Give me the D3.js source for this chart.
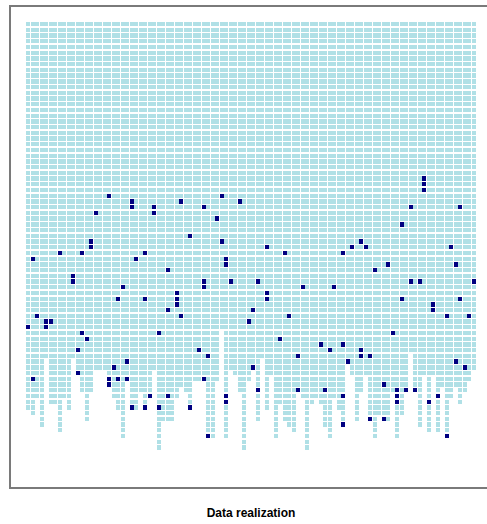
<!DOCTYPE html>
<html>
<head>
<meta charset="utf-8">
<script src="https://cdn.jsdelivr.net/npm/d3@7"></script>
<style>
  body { margin: 0; background: #fff; }
  svg { display: block; }
</style>
</head>
<body>
<svg id="chart" width="487" height="524"></svg>
<script>
// Grid dimensions: one column per subject, one row per time step.
const columns = d3.range(100);
const rows = d3.range(75);

// Last observed row for each column (rows below it are missing).
const lastRow = [
  67, 68, 65, 70, 58, 66, 66, 71, 65, 67,
  58, 61, 64, 69, 64, 60, 60, 60, 63, 65,
  67, 72, 62, 67, 67, 64, 67, 65, 60, 74,
  69, 69, 69, 65, 63, 64, 67, 62, 62, 62,
  72, 72, 62, 53, 72, 60, 61, 64, 74, 62,
  60, 69, 58, 67, 61, 72, 66, 69, 70, 71,
  64, 65, 74, 66, 65, 66, 70, 72, 65, 67,
  70, 59, 61, 69, 64, 61, 69, 72, 68, 69,
  69, 64, 72, 68, 64, 57, 64, 70, 61, 71,
  61, 71, 63, 72, 65, 63, 66, 64, 62, 60
];

// Cells where the event occurred, as column / row index pairs.
const eventCols = [
  18, 23, 23, 28, 15, 28, 14, 14, 7, 12, 26, 1, 24, 31, 10, 10, 21, 20, 26,
  43, 34, 47, 39, 42, 36, 43, 53, 57, 44, 44, 39, 45, 51, 39, 61, 33, 53, 33, 53, 33,
  88, 88, 88, 85, 96, 83, 74, 72, 75, 94, 70, 80, 95, 77, 85, 87, 99, 68, 83, 96, 90,
  2, 4, 5, 0, 4, 12, 29, 13, 11, 22, 19, 11, 1, 18, 20, 22, 18, 27, 23, 26, 29,
  31, 50, 34, 58, 49, 56, 65, 38, 67, 40, 60, 50, 39, 51, 60, 66, 31, 44, 44, 36, 40,
  90, 93, 98, 81, 70, 74, 74, 76, 71, 95, 97, 79, 82, 84, 86, 70, 82, 91, 82, 89, 70, 76, 79, 93
];
const eventRows = [
  30, 31, 32, 32, 33, 33, 38, 39, 40, 40, 40, 41, 41, 43, 44, 45, 46, 48, 48,
  30, 31, 31, 32, 34, 37, 38, 39, 40, 41, 42, 45, 45, 45, 46, 46, 47, 47, 48, 48, 49,
  27, 28, 29, 32, 32, 35, 38, 39, 39, 39, 40, 42, 42, 43, 45, 45, 45, 46, 48, 48, 49,
  51, 52, 52, 53, 53, 54, 54, 55, 57, 59, 60, 61, 62, 62, 62, 62, 63, 65, 67, 67, 67,
  50, 50, 51, 51, 52, 55, 56, 57, 57, 58, 58, 60, 62, 64, 64, 64, 65, 65, 66, 67, 72,
  50, 51, 51, 54, 56, 57, 58, 58, 59, 59, 60, 63, 64, 64, 64, 65, 65, 65, 66, 66, 70, 69, 69, 72
];

const colors = { observed: "#b0e0e6", event: "#000080", frame: "#7a7a7a" };

const svg = d3.select("#chart");

const x = d3.scaleBand().domain(columns).range([26, 476]);
const y = d3.scaleBand().domain(rows).range([22, 22 + 75 * 5.72]);

const eventSet = new Set(eventCols.map((c, i) => c + ":" + eventRows[i]));

// Build the observed cells column by column.
const cells = [];
columns.forEach(c => {
  for (let r = 0; r <= lastRow[c]; r++) {
    cells.push({ c, r, event: eventSet.has(c + ":" + r) });
  }
});

svg.append("g")
  .attr("shape-rendering", "crispEdges")
  .selectAll("rect")
  .data(cells)
  .join("rect")
  .attr("x", d => x(d.c))
  .attr("y", d => y(d.r))
  .attr("width", x.bandwidth() - 0.5)
  .attr("height", y.bandwidth() - 1.4)
  .attr("fill", d => d.event ? colors.event : colors.observed);

// Plot frame (its right edge falls outside the page).
svg.append("rect")
  .attr("x", 10)
  .attr("y", 6)
  .attr("width", 482)
  .attr("height", 482)
  .attr("fill", "none")
  .attr("stroke", colors.frame)
  .attr("stroke-width", 2);

svg.append("text")
  .attr("x", 251)
  .attr("y", 517)
  .attr("text-anchor", "middle")
  .attr("font-family", "Liberation Sans, Arial, Helvetica, sans-serif")
  .attr("font-weight", "bold")
  .attr("font-size", 12)
  .attr("fill", "#000")
  .text("Data realization");
</script>
</body>
</html>
